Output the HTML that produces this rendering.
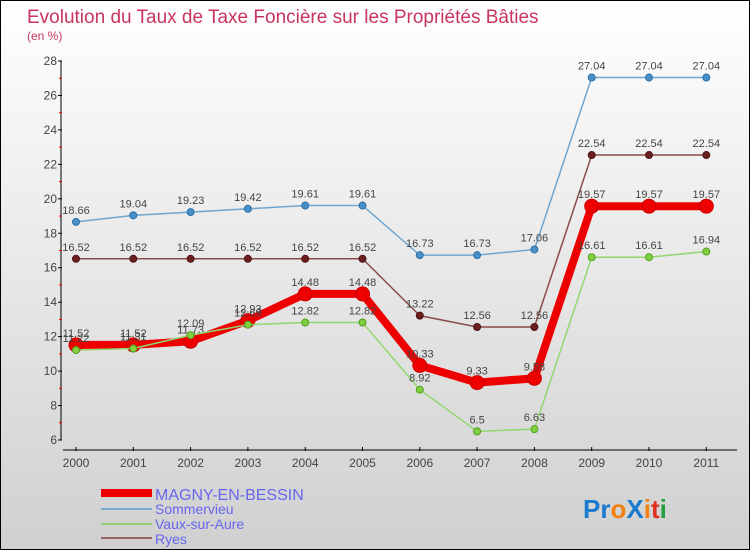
<!DOCTYPE html>
<html><head><meta charset="utf-8"><style>
body{margin:0}
#c{width:748px;height:548px;border:1px solid #000;background:linear-gradient(#fff,#d0d0d0);position:relative;overflow:hidden;font-family:"Liberation Sans",sans-serif}
</style></head><body>
<div id="c">
<svg width="748" height="548" id="s" style="position:absolute;left:0;top:0">
<text x="26" y="22" font-size="19" fill="#c8345e">Evolution du Taux de Taxe Foncière sur les Propriétés Bâties</text>
<text x="26" y="39" font-size="12" fill="#c8345e">(en %)</text>
<g id="axes"></g><g id="series"></g>
<g>
<rect x="100" y="488" width="51" height="8" fill="#e00"/>
<text x="154" y="499" font-size="16" fill="#6666ee">MAGNY-EN-BESSIN</text>
<rect x="100" y="507" width="51" height="2" fill="#7aaed0"/>
<text x="154" y="513" font-size="14" fill="#6666ee">Sommervieu</text>
<rect x="100" y="522" width="51" height="2" fill="#90d070"/>
<text x="154" y="528" font-size="14" fill="#6666ee">Vaux-sur-Aure</text>
<rect x="100" y="536" width="51" height="2" fill="#996666"/>
<text x="154" y="543" font-size="14" fill="#6666ee">Ryes</text>
</g>
<text x="582" y="517" font-size="26" font-weight="bold"><tspan fill="#1a7ad0">Pr</tspan><tspan fill="#f08010">o</tspan><tspan fill="#1a7ad0">X</tspan><tspan fill="#f08010">i</tspan><tspan fill="#e03020">t</tspan><tspan fill="#20a040">i</tspan></text>
</svg>
</div>
<script>
const years=[2000,2001,2002,2003,2004,2005,2006,2007,2008,2009,2010,2011];
const magny=[11.52,11.52,11.73,12.93,14.48,14.48,10.33,9.33,9.58,19.57,19.57,19.57];
const sommervieu=[18.66,19.04,19.23,19.42,19.61,19.61,16.73,16.73,17.06,27.04,27.04,27.04];
const vaux=[11.22,11.31,12.09,12.69,12.82,12.82,8.92,6.5,6.63,16.61,16.61,16.94];
const ryes=[16.52,16.52,16.52,16.52,16.52,16.52,13.22,12.56,12.56,22.54,22.54,22.54];
const yTicks=[6,8,10,12,14,16,18,20,22,24,26,28];
const NS="http://www.w3.org/2000/svg";
const X=i=>75+i*57.3;
const Y=v=>439-(v-6)*(379/22);
function mk(t,a,p){const e=document.createElementNS(NS,t);for(const k in a)e.setAttribute(k,a[k]);p.appendChild(e);return e;}
const ax=document.getElementById('axes');
let l=mk('line',{x1:60,y1:Y(28),x2:60,y2:Y(6),stroke:'#000'},ax);


l=mk('line',{x1:62,y1:449,x2:736,y2:449,stroke:'#000'},ax);


yTicks.forEach((v,i)=>{
 mk('line',{x1:57,x2:61,y1:Y(v),y2:Y(v),stroke:'#000'},ax);
 if(i<yTicks.length-1)mk('line',{x1:58,x2:61,y1:Y(v+1),y2:Y(v+1),stroke:'#e00'},ax);
 const t=mk('text',{x:56,y:Y(v)+4,'font-size':12,fill:'#444','text-anchor':'end'},ax);t.textContent=v;
 
 
});
years.forEach((y,i)=>{
 mk('line',{x1:X(i),x2:X(i),y1:446,y2:450,stroke:'#000'},ax);
 const t=mk('text',{x:X(i),y:466,'font-size':12,fill:'#444','text-anchor':'middle'},ax);t.textContent=y;
 
 
});
const sg=document.getElementById('series');
function series(d,name,col,w,r,mc,ms){
 const g=mk('g',{},sg);
 
 
 mk('polyline',{points:d.map((v,i)=>X(i)+','+Y(v)).join(' '),fill:'none',stroke:col,'stroke-width':w,'stroke-linejoin':'round'},g);
 d.forEach((v,i)=>{
  const c=mk('circle',{cx:X(i),cy:Y(v),r:r,fill:mc,stroke:ms,'stroke-width':1},g);
  
  
  const t=mk('text',{x:X(i),y:Y(v)-8,'font-size':11,fill:'#444','text-anchor':'middle'},g);t.textContent=v;
  
  
 });
}
series(sommervieu,'sommervieu','#6fa6d0',1.5,3.5,'#4a90c8','#2a70a8');
series(ryes,'ryes','#8a4a4a',1.5,3.5,'#6a2020','#501010');
series(magny,'magny','#ee0000',8,7,'#e00','#c00');
series(vaux,'vaux','#90d870',1.5,3.5,'#80d040','#50a020');
</script>
</body></html>
